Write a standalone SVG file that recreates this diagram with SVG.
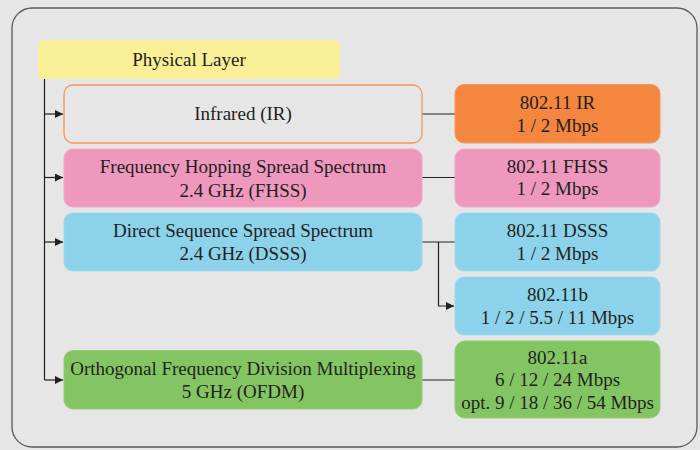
<svg xmlns="http://www.w3.org/2000/svg" width="700" height="450" viewBox="0 0 700 450">
<defs>
<marker id="arr" viewBox="0 0 10 10" refX="10" refY="5" markerWidth="8" markerHeight="8" markerUnits="userSpaceOnUse" orient="auto">
<path d="M0,0 L10,5 L0,10 z" fill="#231f20"/>
</marker>
<style>
text{font-family:"Liberation Serif","Times New Roman",serif;font-size:19px;fill:#231f20;text-anchor:middle}
.c{fill:none;stroke:#231f20;stroke-width:1.2}
.y{fill:#f8ef97}
.o{fill:#f4863f;stroke:#f59a5e;stroke-width:1}
.ir{fill:#e6e6e6;stroke:#f4965a;stroke-width:1.3}
.p{fill:#ee98be;stroke:#f0a6c6;stroke-width:1}
.b{fill:#8bd2ea;stroke:#9ad8ec;stroke-width:1}
.g{fill:#84c563;stroke:#93cc75;stroke-width:1}
</style>
</defs>
<rect width="700" height="450" fill="#e6e6e6"/>
<rect x="12" y="8" width="685" height="439" rx="20" fill="#e6e6e6" stroke="#595959" stroke-width="1.3"/>
<g id="connectors">
<path class="c" d="M44.5,79 V380"/>
<path class="c" d="M44.5,114 H63" marker-end="url(#arr)"/>
<path class="c" d="M44.5,177.5 H63" marker-end="url(#arr)"/>
<path class="c" d="M44.5,242 H63" marker-end="url(#arr)"/>
<path class="c" d="M44.5,380 H63" marker-end="url(#arr)"/>
<path class="c" d="M422,114 H455"/>
<path class="c" d="M422,177.5 H455"/>
<path class="c" d="M422,242 H455"/>
<path class="c" d="M438.5,242 V306 H454" marker-end="url(#arr)"/>
<path class="c" d="M422,380 H455"/>
</g>
<g id="physical">
<rect class="y" x="38" y="40" width="302" height="39" rx="6"/>
<text x="189" y="66">Physical Layer</text>
</g>
<g id="ir">
<rect class="ir" x="64" y="85" width="358" height="58" rx="9"/>
<text x="243" y="120">Infrared (IR)</text>
</g>
<g id="ir-std">
<rect class="o" x="455" y="84.5" width="205" height="58.5" rx="9"/>
<text x="557.5" y="108.5">802.11 IR</text>
<text x="557.5" y="131.5">1 / 2 Mbps</text>
</g>
<g id="fhss">
<rect class="p" x="64" y="149" width="358" height="58" rx="9"/>
<text x="243" y="173">Frequency Hopping Spread Spectrum</text>
<text x="243" y="196.5">2.4 GHz (FHSS)</text>
</g>
<g id="fhss-std">
<rect class="p" x="455" y="149" width="205" height="58" rx="9"/>
<text x="557.5" y="172.5">802.11 FHSS</text>
<text x="557.5" y="195">1 / 2 Mbps</text>
</g>
<g id="dsss">
<rect class="b" x="64" y="213" width="358" height="58" rx="9"/>
<text x="243" y="237">Direct Sequence Spread Spectrum</text>
<text x="243" y="260">2.4 GHz (DSSS)</text>
</g>
<g id="dsss-std">
<rect class="b" x="455" y="213" width="205" height="58" rx="9"/>
<text x="557.5" y="237">802.11 DSSS</text>
<text x="557.5" y="260">1 / 2 Mbps</text>
</g>
<g id="b-std">
<rect class="b" x="455" y="277" width="205" height="58" rx="9"/>
<text x="557.5" y="301">802.11b</text>
<text x="557.5" y="323.5">1 / 2 / 5.5 / 11 Mbps</text>
</g>
<g id="ofdm">
<rect class="g" x="64" y="350.5" width="358" height="58.5" rx="9"/>
<text x="243" y="375">Orthogonal Frequency Division Multiplexing</text>
<text x="243" y="397.5">5 GHz (OFDM)</text>
</g>
<g id="a-std">
<rect class="g" x="455" y="341" width="205" height="77" rx="10"/>
<text x="557.5" y="363.5">802.11a</text>
<text x="557.5" y="386">6 / 12 / 24 Mbps</text>
<text x="557.5" y="408.5">opt. 9 / 18 / 36 / 54 Mbps</text>
</g>
</svg>
